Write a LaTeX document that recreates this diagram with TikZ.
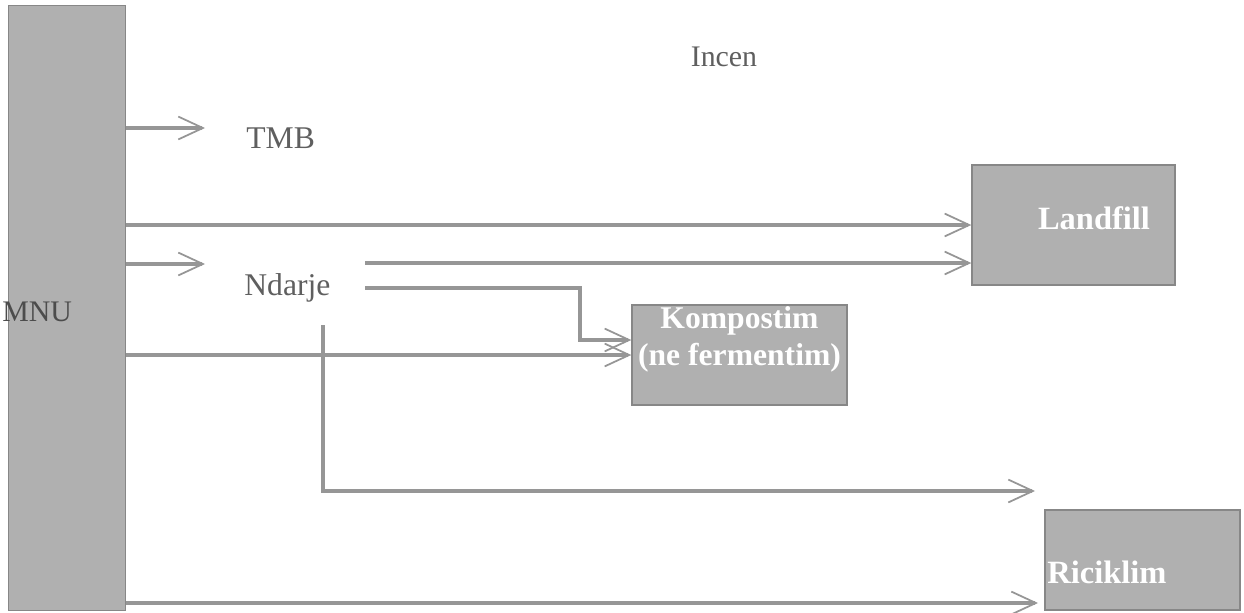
\documentclass[tikz,border=0pt]{standalone}
\usepackage{fontspec}
\setmainfont{Liberation Serif}
\usetikzlibrary{arrows.meta,positioning}
\definecolor{mnugray}{RGB}{176,176,176}
\definecolor{edgegray}{RGB}{135,135,135}
\definecolor{arrgray}{RGB}{150,150,150}
\definecolor{txtgray}{RGB}{95,95,95}

\begin{document}
\begin{tikzpicture}[
    x=0.02cm, y=-0.02cm,
    blok/.style={
      draw=edgegray,
      fill=mnugray,
      line width=0.8pt,
      inner sep=0pt
    },
    etik/.style={text=txtgray, font=\fontsize{18}{21}\selectfont},
    kutitekst/.style={text=white, font=\fontsize{18.5}{21}\selectfont\bfseries, align=center},
    shigjeta/.style={-{Straight Barb[length=14pt,width=13pt,line width=1pt]},line width=2pt,draw=arrgray}
  ]
  \useasboundingbox (0,0) rectangle (1244,612);
  % blloqet
  \node[blok,anchor=north west,minimum width=2.34cm,minimum height=12.1cm] (mnu) at (8,5) {};
  \node[text=txtgray!80!black,font=\fontsize{17}{20}\selectfont,anchor=west,inner sep=0pt] (mnutxt) at (2,312) {MNU};
  \node[blok,minimum width=4.06cm,minimum height=2.4cm] (landfill) at (1073.5,225) {};
  \node[kutitekst] (landfilltxt) at (1094,218) {Landfill};
  \node[blok,minimum width=4.3cm,minimum height=2cm] (kompost) at (739.5,355) {};
  \node[kutitekst,inner sep=1pt,font=\fontsize{18}{21}\selectfont\bfseries] (komposttxt) at (739.5,339) {Kompostim\\(ne fermentim)};
  \node[blok,minimum width=3.9cm,minimum height=2cm] (ricikl) at (1142.5,560) {};
  \node[kutitekst,anchor=west,inner sep=0pt] (riciktxt) at (1047,572) {Riciklim};
  % etiketat
  \node[text=txtgray,font=\fontsize{17}{20}\selectfont] (incen) at (724,57) {Incen};
  \node[etik,anchor=west,inner sep=0pt] (tmb) at (246,138) {TMB};
  \node[etik,anchor=west,inner sep=0pt] (ndarje) at (244,288) {Ndarje};
  % pikat e lira
  \coordinate (t1) at (205,128);
  \coordinate (n1) at (205,264);
  \coordinate (n2) at (365,263);
  \coordinate (n3) at (365,288);
  \coordinate (k1) at (580,340);
  \coordinate (d1) at (323,325);
  \coordinate (r1) at (1035,491);
  \coordinate (r2) at (1038,603);
  % shigjetat
  \draw[shigjeta] (mnu.east |- t1) -- (t1);
  \draw[shigjeta] (mnu.east |- landfill.west) -- (landfill.west);
  \draw[shigjeta] (mnu.east |- n1) -- (n1);
  \draw[shigjeta] (n2) -- (landfill.west |- n2);
  \draw[shigjeta] (n3) -| (k1) -- (kompost.west |- k1);
  \draw[shigjeta] (mnu.east |- kompost.west) -- (kompost.west);
  \draw[shigjeta] (d1) |- (r1);
  \draw[shigjeta] (mnu.east |- r2) -- (r2);
\end{tikzpicture}
\end{document}
